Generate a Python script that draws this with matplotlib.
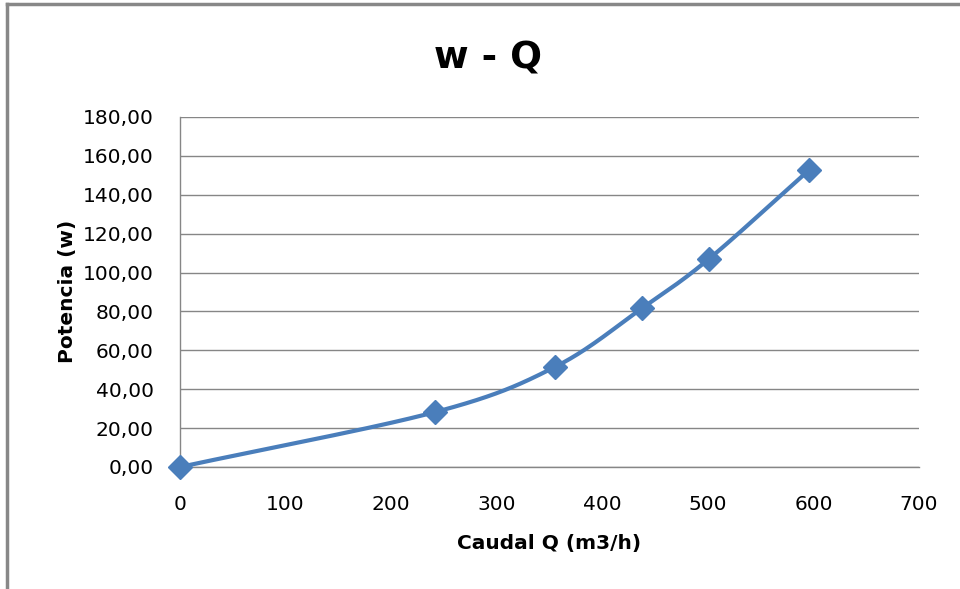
import matplotlib.pyplot as plt
from matplotlib.lines import Line2D
from matplotlib.ticker import FuncFormatter, MultipleLocator
import numpy as np

# caudal (m3/h) y potencia (w)
caudal = [0, 242, 355, 438, 501, 596]
potencia = [0.0, 28.3, 51.4, 81.8, 107.0, 152.8]

blue = '#4a7ebb'
grid_gray = '#868686'


def smooth_curve(x, y, n=40):
    # Catmull-Rom entre puntos consecutivos (línea suavizada)
    x = np.asarray(x, float)
    y = np.asarray(y, float)
    px = np.concatenate([[2 * x[0] - x[1]], x, [2 * x[-1] - x[-2]]])
    py = np.concatenate([[2 * y[0] - y[1]], y, [2 * y[-1] - y[-2]]])
    xs, ys = [], []
    t = np.linspace(0, 1, n)
    for i in range(1, len(px) - 2):
        for p, out in ((px, xs), (py, ys)):
            p0, p1, p2, p3 = p[i - 1], p[i], p[i + 1], p[i + 2]
            out.extend(0.5 * (2 * p1 + (-p0 + p2) * t
                              + (2 * p0 - 5 * p1 + 4 * p2 - p3) * t ** 2
                              + (-p0 + 3 * p1 - 3 * p2 + p3) * t ** 3))
    return xs, ys


plt.rcParams['font.family'] = ['DejaVu Sans']

W, H = 960, 589
fig = plt.figure(figsize=(W / 100, H / 100), dpi=100)
ax = fig.add_axes([180 / W, 1 - 467 / H, 739 / W, 350 / H])

sx, sy = smooth_curve(caudal, potencia)
ax.plot(sx, sy, color=blue, linewidth=3.0, solid_capstyle='round', zorder=3)
ax.plot(caudal, potencia, linestyle='none', marker='D', markersize=12.5,
        color=blue, zorder=4, clip_on=False)

ax.set_xlim(0, 700)
ax.set_ylim(0, 180)
ax.xaxis.set_major_locator(MultipleLocator(100))
ax.yaxis.set_major_locator(MultipleLocator(20))
ax.yaxis.set_major_formatter(FuncFormatter(lambda v, _: f'{v:.2f}'.replace('.', ',')))

ax.grid(axis='y', color=grid_gray, linewidth=1.0)
ax.set_axisbelow(True)
for side in ('top', 'right'):
    ax.spines[side].set_visible(False)
for side in ('left', 'bottom'):
    ax.spines[side].set_color(grid_gray)
    ax.spines[side].set_linewidth(1.0)
ax.tick_params(length=0, labelsize=14.5, colors='black')
ax.tick_params(axis='y', pad=19)
ax.tick_params(axis='x', pad=20)

# títulos
fig.text(488 / W, 1 - 58 / H, 'w - Q', fontsize=27, fontweight='bold',
         ha='center', va='center')
fig.text(549.5 / W, 1 - 543 / H, 'Caudal Q (m3/h)', fontsize=14.5,
         fontweight='bold', ha='center', va='center')
fig.text(67 / W, 1 - 291 / H, 'Potencia (w)', fontsize=14.5,
         fontweight='bold', ha='center', va='center', rotation=90)

# marco del gráfico
fig.add_artist(Line2D([7 / W, 1], [1 - 4 / H, 1 - 4 / H],
                      transform=fig.transFigure, color='#888888', linewidth=2.5))
fig.add_artist(Line2D([7 / W, 7 / W], [0, 1 - 4 / H],
                      transform=fig.transFigure, color='#888888', linewidth=2.5))

fig.savefig('out.png', dpi=100)
